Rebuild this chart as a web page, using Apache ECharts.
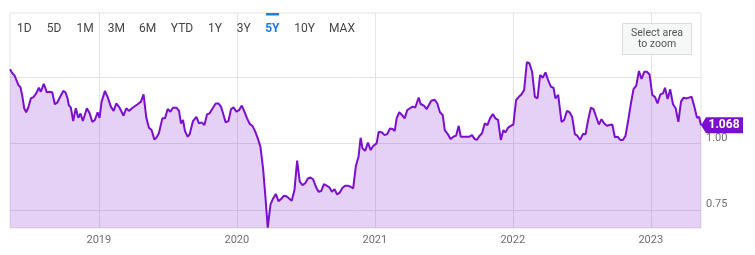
<!DOCTYPE html>
<html>
<head>
<meta charset="utf-8">
<script src="https://cdn.jsdelivr.net/npm/echarts@6/dist/echarts.min.js"></script>
<style>
html,body{margin:0;padding:0;background:#fff;}
#c{width:755px;height:255px;}
</style>
</head>
<body>
<div id="c"></div>
<script>
// time in decimal years
const T = [
2018.356,2018.374,2018.390,2018.403,2018.417,2018.432,2018.446,2018.459,2018.473,2018.488,
2018.507,2018.526,2018.546,2018.565,2018.579,2018.601,2018.623,2018.642,2018.662,2018.681,
2018.698,2018.720,2018.742,2018.758,2018.773,2018.782,2018.797,2018.814,2018.833,2018.851,
2018.867,2018.884,2018.913,2018.933,2018.952,2018.971,2018.991,2019.005,2019.020,2019.044,
2019.063,2019.087,2019.107,2019.126,2019.150,2019.179,2019.199,2019.218,2019.247,2019.281,
2019.305,2019.324,2019.344,2019.363,2019.382,2019.402,2019.417,2019.435,2019.460,2019.479,
2019.499,2019.518,2019.537,2019.562,2019.581,2019.595,2019.610,2019.624,2019.644,2019.658,
2019.682,2019.707,2019.726,2019.745,2019.765,2019.784,2019.803,2019.827,2019.847,2019.866,
2019.885,2019.900,2019.919,2019.939,2019.958,2019.977,2019.997,2020.016,2020.036,2020.055,
2020.074,2020.094,2020.113,2020.132,2020.152,2020.171,2020.190,2020.208,2020.224,2020.244,
2020.263,2020.282,2020.302,2020.321,2020.340,2020.360,2020.379,2020.398,2020.418,2020.437,
2020.456,2020.476,2020.495,2020.515,2020.534,2020.553,2020.573,2020.592,2020.611,2020.631,
2020.650,2020.669,2020.689,2020.708,2020.727,2020.747,2020.766,2020.785,2020.805,2020.824,
2020.843,2020.863,2020.882,2020.897,2020.911,2020.930,2020.950,2020.970,2020.988,2021.013,
2021.028,2021.052,2021.071,2021.090,2021.110,2021.129,2021.144,2021.158,2021.177,2021.197,
2021.216,2021.235,2021.255,2021.274,2021.293,2021.318,2021.332,2021.356,2021.376,2021.390,
2021.409,2021.434,2021.453,2021.472,2021.492,2021.507,2021.525,2021.550,2021.569,2021.589,
2021.608,2021.623,2021.637,2021.652,2021.666,2021.685,2021.705,2021.724,2021.739,2021.758,
2021.777,2021.797,2021.816,2021.835,2021.855,2021.874,2021.893,2021.913,2021.932,2021.946,
2021.966,2021.985,2022.004,2022.024,2022.044,2022.062,2022.082,2022.102,2022.120,2022.140,
2022.160,2022.179,2022.198,2022.218,2022.237,2022.256,2022.276,2022.295,2022.309,2022.329,
2022.353,2022.372,2022.392,2022.411,2022.430,2022.450,2022.469,2022.488,2022.508,2022.527,
2022.546,2022.566,2022.585,2022.604,2022.624,2022.643,2022.663,2022.682,2022.701,2022.721,
2022.740,2022.759,2022.779,2022.798,2022.817,2022.837,2022.856,2022.875,2022.895,2022.914,
2022.933,2022.953,2022.972,2022.991,2023.011,2023.030,2023.049,2023.069,2023.089,2023.103,
2023.122,2023.141,2023.161,2023.180,2023.200,2023.219,2023.238,2023.258,2023.277,2023.296,
2023.316,2023.335,2023.350,2023.364
];
const V = [
1.279,1.263,1.254,1.249,1.219,1.211,1.175,1.132,1.117,1.134,
1.169,1.174,1.188,1.209,1.194,1.224,1.192,1.194,1.192,1.147,
1.153,1.175,1.197,1.192,1.169,1.144,1.134,1.084,1.132,1.096,
1.112,1.084,1.132,1.113,1.081,1.088,1.117,1.096,1.157,1.197,
1.175,1.138,1.122,1.150,1.134,1.104,1.132,1.122,1.135,1.147,
1.157,1.184,1.096,1.059,1.050,1.015,1.021,1.038,1.094,1.094,
1.129,1.119,1.134,1.134,1.122,1.075,1.088,1.046,1.025,1.034,
1.084,1.100,1.075,1.079,1.069,1.109,1.113,1.134,1.150,1.150,
1.138,1.113,1.079,1.084,1.129,1.135,1.119,1.125,1.142,1.119,
1.094,1.073,1.066,1.046,1.019,0.987,0.906,0.793,0.683,0.771,
0.793,0.810,0.783,0.791,0.803,0.801,0.793,0.784,0.826,0.935,
0.856,0.843,0.850,0.868,0.872,0.865,0.837,0.818,0.821,0.847,
0.841,0.836,0.818,0.828,0.808,0.816,0.833,0.841,0.841,0.837,
0.831,0.916,0.950,1.021,0.981,0.972,1.003,0.975,0.990,1.000,
1.044,1.041,1.031,1.035,1.056,1.054,1.046,1.094,1.117,1.107,
1.094,1.125,1.132,1.138,1.135,1.172,1.148,1.142,1.129,1.134,
1.160,1.164,1.150,1.117,1.107,1.050,1.038,1.016,1.025,1.029,
1.066,1.025,1.031,1.025,1.019,1.025,1.031,1.016,1.013,1.028,
1.038,1.075,1.069,1.094,1.110,1.094,1.088,1.013,1.050,1.041,
1.059,1.066,1.071,1.163,1.175,1.184,1.200,1.305,1.301,1.269,
1.175,1.169,1.257,1.247,1.267,1.238,1.213,1.209,1.169,1.182,
1.081,1.088,1.122,1.117,1.100,1.035,1.028,1.013,1.035,1.034,
1.088,1.134,1.129,1.100,1.071,1.091,1.075,1.066,1.069,1.071,
1.023,1.025,1.013,1.013,1.029,1.088,1.150,1.204,1.217,1.272,
1.242,1.269,1.269,1.259,1.182,1.175,1.150,1.184,1.188,1.209,
1.167,1.203,1.147,1.132,1.081,1.157,1.172,1.169,1.172,1.175,
1.138,1.096,1.100,1.068
];
const X_TICKS = [2019, 2020, 2021, 2022, 2023];
const Y_TICKS = [0.75, 1.00, 1.25];
const Y_LABELS = [0.75, 1.00];
const RANGE_BUTTONS = ['1D','5D','1M','3M','6M','YTD','1Y','3Y','5Y','10Y','MAX'];
const ACTIVE_BUTTON = '5Y';
const LAST_LABEL = '1.068';

const LINE = '#7a0fcf';
const data = T.map((t, i) => [t, V[i]]);
const last = data[data.length - 1];

const btnX = [24.3, 54, 85, 116.3, 147.7, 182, 215, 243.7, 272.3, 304.7, 342];
const graphics = RANGE_BUTTONS.map((b, i) => ({
  type: 'text', z: 100, x: btnX[i], y: 29,
  style: {
    text: b, textAlign: 'center', textVerticalAlign: 'middle',
    font: (b === ACTIVE_BUTTON ? 'bold ' : 'normal ') + '12px Roboto',
    fill: b === ACTIVE_BUTTON ? '#1a7fe0' : '#444'
  }
}));
graphics.push({ type: 'rect', z: 100, shape: { x: 266, y: 13, width: 13, height: 2.5 }, style: { fill: '#1a7fe0' } });
graphics.push({ type: 'rect', z: 100, shape: { x: 622.5, y: 23.5, width: 69, height: 31 }, style: { fill: '#f6f7f7', stroke: '#dddddd', lineWidth: 1 } });
graphics.push({ type: 'text', z: 101, x: 657, y: 39, style: { text: 'Select area\nto zoom', textAlign: 'center', textVerticalAlign: 'middle', font: '10.5px Roboto', lineHeight: 11.5, fill: '#555' } });

const chart = echarts.init(document.getElementById('c'), null, { renderer: 'canvas' });
chart.setOption({
  animation: false,
  backgroundColor: '#fff',
  grid: { left: 10, right: 54, top: 13, bottom: 27, show: true, borderColor: '#e3e3e3', borderWidth: 1, backgroundColor: 'transparent' },
  xAxis: {
    type: 'value', min: 2018.356, max: 2023.364,
    axisLine: { show: false },
    axisTick: { show: false, customValues: X_TICKS },
    axisLabel: { customValues: X_TICKS, formatter: v => String(Math.round(v)), color: '#6e6e6e', fontSize: 11, fontFamily: 'Roboto', margin: 7 },
    splitLine: { show: true, lineStyle: { color: '#e3e3e3', width: 1 } }
  },
  yAxis: {
    type: 'value', min: 0.682, max: 1.49, position: 'right',
    axisLine: { show: false },
    axisTick: { show: false, customValues: Y_TICKS },
    axisLabel: { customValues: Y_LABELS, formatter: v => v.toFixed(2), color: '#6e6e6e', fontSize: 11, fontFamily: 'Roboto', margin: 5, align: 'left', verticalAlign: 'bottom' },
    splitLine: { show: true, lineStyle: { color: '#e3e3e3', width: 1 } }
  },
  graphic: graphics,
  series: [{
    type: 'line', data: data, showSymbol: false, symbol: 'none', smooth: false,
    lineStyle: { color: LINE, width: 2 },
    areaStyle: { color: 'rgba(123,16,208,0.28)', origin: 'start' },
    markPoint: {
      symbol: 'path://M0,8 L5,0 L42,0 L42,16 L5,16 Z',
      symbolSize: [42, 16], symbolOffset: [21, 0], symbolKeepAspect: false,
      itemStyle: { color: LINE },
      label: { show: true, position: 'inside', offset: [2, 0], color: '#fff', fontWeight: 'bold', fontSize: 12, fontFamily: 'Roboto', formatter: LAST_LABEL },
      data: [{ coord: last }]
    }
  }]
});
</script>
</body>
</html>
